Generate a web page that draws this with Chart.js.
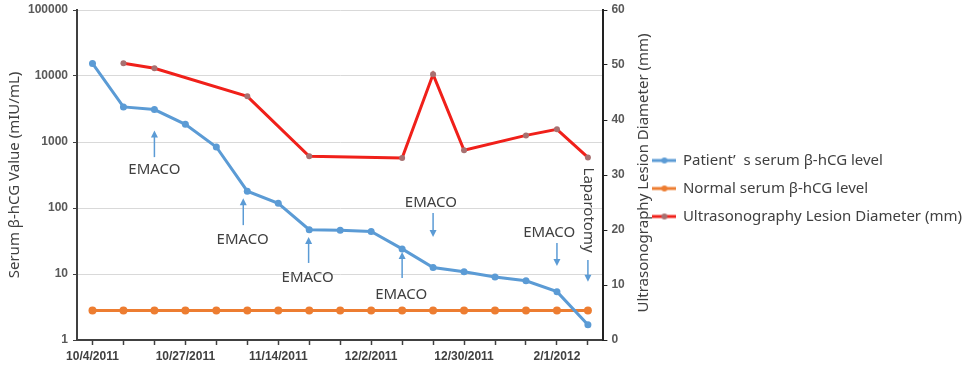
<!DOCTYPE html>
<html>
<head>
<meta charset="utf-8">
<script src="https://cdn.jsdelivr.net/npm/chart.js@4.4.1/dist/chart.umd.min.js"></script>
<style>
  html, body { margin: 0; padding: 0; background: #fff; }
  #wrap { width: 972px; height: 367px; position: relative; }
</style>
</head>
<body>
<div id="wrap"><canvas id="chart"></canvas></div>
<script>
// categories (only every third visit carries a date label in the original)
const visitLabels = ['10/4/2011', '', '', '10/27/2011', '', '', '11/14/2011', '', '', '12/2/2011', '', '', '12/30/2011', '', '', '2/1/2012', '']
// series
const patientHcg = [15500, 3400, 3100, 1850, 840, 180, 118, 47, 46, 44, 24, 12.5, 10.8, 9, 7.9, 5.4, 1.7]
const normalHcg = [2.8, 2.8, 2.8, 2.8, 2.8, 2.8, 2.8, 2.8, 2.8, 2.8, 2.8, 2.8, 2.8, 2.8, 2.8, 2.8, 2.8]
const lesionMm = [null, 50.3, 49.4, null, null, 44.3, null, 33.4, null, null, 33.1, 48.3, 34.5, null, 37.2, 38.3, 33.2]
// tick labels
const hcgTicks = [1, 10, 100, 1000, 10000, 100000]
const mmTicks = [0, 10, 20, 30, 40, 50, 60]
const seriesNames = ['Patient\u2019  s serum \u03b2-hCG level', 'Normal serum \u03b2-hCG level', 'Ultrasonography Lesion Diameter (mm)']

// treatment notes, in data units (category index, hCG value)
const arrows = [
  {x: 2, from: 590, to: 1500},
  {x: 4.87, from: 55, to: 141},
  {x: 6.98, from: 14.7, to: 36.4},
  {x: 10, from: 8.7, to: 21.5},
  {x: 11, from: 84, to: 36.4},
  {x: 15, from: 29.5, to: 13.2},
  {x: 16, from: 16.3, to: 7.6}
]
const notes = [
  {text: 'EMACO', x: 2, y: 375},
  {text: 'EMACO', x: 4.85, y: 33},
  {text: 'EMACO', x: 6.95, y: 8.7},
  {text: 'EMACO', x: 9.97, y: 4.8},
  {text: 'EMACO', x: 10.93, y: 119},
  {text: 'EMACO', x: 14.75, y: 41.8},
  {text: 'Laparotomy', x: 16, y: 93, rotate: true}
]

const BLUE = '#5b9bd5'
const ORANGE = '#ed7d31'
const RED = '#f0201a'
const TXT = '#404040'
const LEGEND_FONT = {family: '"Noto Sans", sans-serif', size: 15}

// small line-with-dot legend icons
function legendIcon (color, dot) {
  const c = document.createElement('canvas')
  c.width = 24
  c.height = 10
  const g = c.getContext('2d')
  g.strokeStyle = color
  g.lineWidth = 3
  g.beginPath()
  g.moveTo(0, 5)
  g.lineTo(24, 5)
  g.stroke()
  g.fillStyle = dot
  g.beginPath()
  g.arc(12, 5, 3, 0, Math.PI * 2)
  g.fill()
  return c
}
const icons = [legendIcon(BLUE, BLUE), legendIcon(ORANGE, ORANGE), legendIcon(RED, '#a87070')]

// size the legend so the plot keeps its place (chart.js adds 10px to a side legend)
const meas = document.createElement('canvas').getContext('2d')
meas.font = `${LEGEND_FONT.size}px ${LEGEND_FONT.family}`
const longest = Math.max(...seriesNames.map(s => meas.measureText(s).width))
const legendPad = 13
const legendWidth = legendPad + 22 + LEGEND_FONT.size / 2 + longest + 10
const rightPad = Math.max(0, 972 - 645 - legendWidth)

const notesPlugin = {
  id: 'notes',
  afterDatasetsDraw (chart) {
    const ctx = chart.ctx
    const xs = chart.scales.x
    const ys = chart.scales.y
    ctx.save()
    ctx.strokeStyle = BLUE
    ctx.fillStyle = BLUE
    ctx.lineWidth = 1.5
    for (const a of arrows) {
      const x = xs.getPixelForValue(a.x)
      const y0 = ys.getPixelForValue(a.from)
      const y1 = ys.getPixelForValue(a.to)
      const dir = y1 > y0 ? 1 : -1
      ctx.beginPath()
      ctx.moveTo(x, y0)
      ctx.lineTo(x, y1 - dir * 5)
      ctx.stroke()
      ctx.beginPath()
      ctx.moveTo(x, y1)
      ctx.lineTo(x - 3.5, y1 - dir * 7)
      ctx.lineTo(x + 3.5, y1 - dir * 7)
      ctx.closePath()
      ctx.fill()
    }
    ctx.fillStyle = TXT
    ctx.font = '15px "Noto Sans", sans-serif'
    ctx.textAlign = 'center'
    ctx.textBaseline = 'middle'
    for (const n of notes) {
      const x = xs.getPixelForValue(n.x)
      const y = ys.getPixelForValue(n.y)
      if (n.rotate) {
        ctx.save()
        ctx.translate(x, y)
        ctx.rotate(Math.PI / 2)
        ctx.fillText(n.text, 0, 0)
        ctx.restore()
      } else {
        ctx.fillText(n.text, x, y)
      }
    }
    // right axis title reads bottom-to-top like the left one
    const r = chart.scales.y1
    ctx.save()
    ctx.translate(r.left + 40, (r.top + r.bottom) / 2 - 2)
    ctx.rotate(-Math.PI / 2)
    ctx.fillText('Ultrasonography Lesion Diameter (mm)', 0, 0)
    ctx.restore()
    ctx.restore()
  }
}

const tickFont = {family: '"Liberation Sans", Arial, sans-serif', size: 12, weight: 'bold'}
const noTopPad = s => { s.paddingTop = 0 }

new Chart(document.getElementById('chart'), {
  type: 'line',
  data: {
    labels: visitLabels,
    datasets: [
      {
        label: seriesNames[0], data: patientHcg, yAxisID: 'y',
        borderColor: BLUE, backgroundColor: BLUE, borderWidth: 3,
        pointRadius: 3.5, pointBackgroundColor: BLUE, pointBorderWidth: 0
      },
      {
        label: seriesNames[1], data: normalHcg, yAxisID: 'y',
        borderColor: ORANGE, backgroundColor: ORANGE, borderWidth: 3,
        pointRadius: 4, pointBackgroundColor: ORANGE, pointBorderWidth: 0
      },
      {
        label: seriesNames[2], data: lesionMm, yAxisID: 'y1', spanGaps: true,
        borderColor: RED, backgroundColor: RED, borderWidth: 3,
        pointRadius: 3, pointBackgroundColor: '#a87070', pointBorderWidth: 0
      }
    ]
  },
  options: {
    responsive: true,
    maintainAspectRatio: false,
    animation: false,
    events: [],
    layout: {padding: {top: 10, right: rightPad, left: 0, bottom: 0}},
    plugins: {
      tooltip: {enabled: false},
      legend: {
        position: 'right',
        align: 'center',
        maxWidth: 420,
        labels: {
          usePointStyle: true,
          pointStyleWidth: 22,
          padding: legendPad,
          color: TXT,
          font: LEGEND_FONT,
          generateLabels: chart => chart.data.datasets.map((ds, i) => ({
            text: ds.label, pointStyle: icons[i], fontColor: TXT, hidden: false,
            datasetIndex: i, lineWidth: 0, strokeStyle: 'transparent', fillStyle: 'transparent'
          }))
        }
      }
    },
    scales: {
      x: {
        type: 'category',
        offset: true,
        afterFit: s => { s.height = 27 },
        border: {color: TXT, width: 2},
        grid: {display: true, drawOnChartArea: false, offset: false, tickLength: 5, color: TXT, tickWidth: 1.5},
        ticks: {autoSkip: false, maxRotation: 0, padding: 4, color: TXT, font: tickFont}
      },
      y: {
        type: 'logarithmic',
        position: 'left',
        min: 1,
        max: 100000,
        afterBuildTicks: s => { s.ticks = hcgTicks.map(v => ({value: v})) },
        afterFit: s => { s.width = 77; noTopPad(s) },
        border: {color: TXT, width: 2},
        grid: {color: '#d9d9d9', lineWidth: 1, tickColor: TXT, tickLength: 4},
        ticks: {padding: 5, color: '#595959', font: tickFont, callback: v => String(v)},
        title: {display: true, text: 'Serum \u03b2-hCG Value (mIU/mL)', color: TXT,
          font: {family: '"Noto Sans", sans-serif', size: 15}, padding: {top: 6, bottom: 0}}
      },
      y1: {
        type: 'linear',
        position: 'right',
        min: 0,
        max: 60,
        afterBuildTicks: s => { s.ticks = mmTicks.map(v => ({value: v})) },
        afterFit: s => { s.width = 37; noTopPad(s) },
        border: {color: '#222', width: 2},
        grid: {drawOnChartArea: false, tickLength: 4, color: '#222'},
        ticks: {padding: 4, color: '#595959', font: tickFont}
      }
    }
  },
  plugins: [notesPlugin]
})
</script>
</body>
</html>
